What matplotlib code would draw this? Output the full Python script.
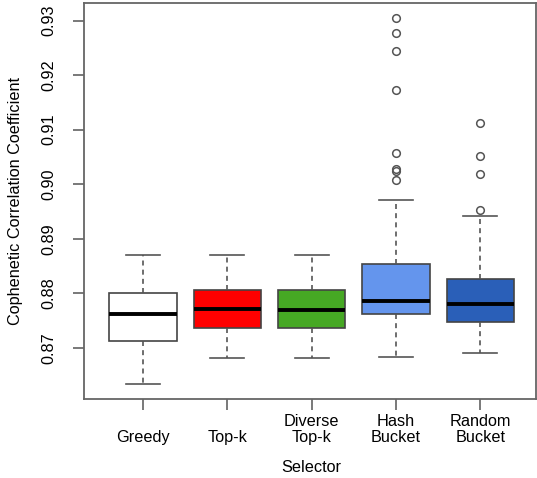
import matplotlib
matplotlib.use("Agg")
import matplotlib.pyplot as plt

plt.rcParams['font.family'] = ['Liberation Sans', 'DejaVu Sans']

# values
selectors = ["\nGreedy", "\nTop-k", "Diverse\nTop-k", "Hash\nBucket", "Random\nBucket"]
medians = [0.8762, 0.8771, 0.8770, 0.8786, 0.8780]
q1s = [0.8713, 0.8737, 0.8737, 0.8762, 0.8747]
q3s = [0.8800, 0.8805, 0.8805, 0.8854, 0.8826]
lows = [0.8633, 0.8682, 0.8682, 0.8683, 0.8690]
highs = [0.8870, 0.8871, 0.8871, 0.8971, 0.8942]
fliers = [
    [],
    [],
    [],
    [0.9305, 0.9277, 0.9244, 0.9173, 0.9057, 0.9027, 0.9025, 0.9008],
    [0.9112, 0.9051, 0.9019, 0.8952],
]
colors = ["white", "#ff0000", "#46a824", "#6495ed", "#2a5fb8"]

stats = []
for i in range(len(selectors)):
    stats.append(dict(med=medians[i], q1=q1s[i], q3=q3s[i],
                      whislo=lows[i], whishi=highs[i], fliers=fliers[i]))

fig = plt.figure(figsize=(5.37, 4.78), dpi=100)
ax = fig.add_axes([0.1564, 0.1653, 0.8416, 0.8274])

bp = ax.bxp(stats, positions=range(1, 6), widths=0.8, patch_artist=True,
            capwidths=0.4,
            boxprops=dict(edgecolor="#444444", linewidth=1.2),
            medianprops=dict(color="black", linewidth=2.8),
            whiskerprops=dict(color="#555555", linewidth=1.2, linestyle=(0, (3, 2.5))),
            capprops=dict(color="#555555", linewidth=1.2),
            flierprops=dict(marker="o", markersize=5.5, markerfacecolor="none",
                            markeredgecolor="#555555", markeredgewidth=1.1))
for patch, c in zip(bp['boxes'], colors):
    patch.set_facecolor(c)

ax.set_xlim(0.3, 5.66)
ax.set_ylim(0.86059, 0.93316)
ax.set_yticks([0.87, 0.88, 0.89, 0.90, 0.91, 0.92, 0.93])
ax.set_yticklabels(["0.87", "0.88", "0.89", "0.90", "0.91", "0.92", "0.93"],
                   rotation=90, va="center", fontsize=11.7)
ax.set_xticks(range(1, 6))
ax.set_xticklabels(selectors, fontsize=11.7, linespacing=1.15)

ax.tick_params(axis="y", length=8, width=1.1, color="#555555", pad=12)
ax.tick_params(axis="x", length=8, width=1.1, color="#555555", pad=2.5)

for s in ax.spines.values():
    s.set_color("#666666")
    s.set_linewidth(1.3)

ax.set_ylabel("Cophenetic Correlation Coefficient", fontsize=11.7)
ax.yaxis.set_label_coords(-0.134, 0.5)
ax.set_xlabel("Selector", fontsize=11.7)
ax.xaxis.set_label_coords(0.503, -0.155)

fig.savefig("out.png", dpi=100)
